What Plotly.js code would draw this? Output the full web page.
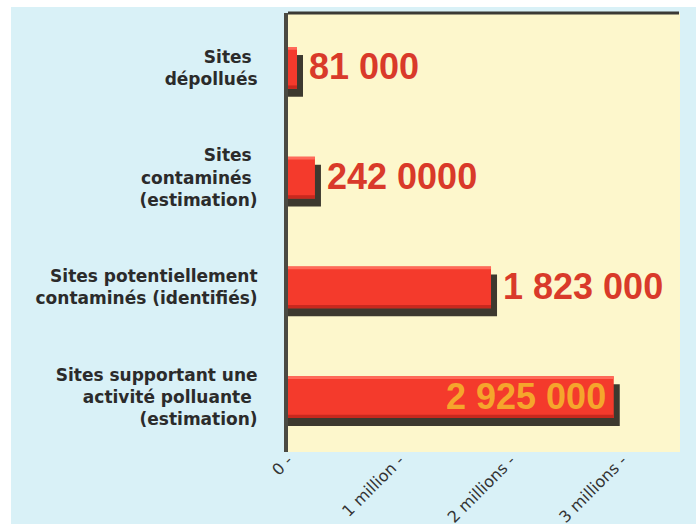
<!DOCTYPE html>
<html>
<head>
<meta charset="utf-8">
<script src="https://cdn.plot.ly/plotly-3.0.1.min.js"></script>
<style>html,body{margin:0;padding:0;background:#d9f1f7;overflow:hidden;}#chart{width:696px;height:524px;}</style>
</head>
<body>
<div id="chart"></div>
<script>
// ---- data ----
var categories = [
  "Sites\u00a0<br>dépollués",
  "Sites\u00a0<br>contaminés\u00a0<br>(estimation)",
  "Sites potentiellement<br>contaminés (identifiés)",
  "Sites supportant une<br>activité polluante\u00a0<br>(estimation)"
];
var values = [81000, 242000, 1823000, 2925000];
var valueLabels = ["81 000", "242 0000", "1 823 000", "2 925 000"];
var labelInside = [false, false, false, true];
var tickValues = [0, 1000000, 2000000, 3000000];
var tickLabels = ["0 -", "1 million -", "2 millions -", "3 millions -"];

// ---- layout constants ----
var W = 696, H = 524;
var mL = 288, mR = 16, mT = 13, mB = 72;
var pw = W - mL - mR, ph = H - mT - mB;
function px2x(p){ return (p - mL) / pw; }
function py2y(p){ return (H - mB - p) / ph; }

var barW = 0.38;
var shadowDx = 54000;   // in data units (~6px)
var shadowDy = 0.073;   // in category units (~8px)

var shadow = {
  type: 'bar', orientation: 'h',
  y: categories,
  x: values.map(function(v){ return v + shadowDx; }),
  width: barW, offset: -barW/2 + shadowDy,
  marker: {color: '#3d392f', line: {width: 0}},
  hoverinfo: 'skip'
};
var bars = {
  type: 'bar', orientation: 'h',
  y: categories, x: values,
  width: barW, offset: -barW/2,
  marker: {color: '#f43a2c', line: {width: 0}},
  hoverinfo: 'skip'
};
// thin lighter highlight on top edge of each bar
var highlight = {
  type: 'bar', orientation: 'h',
  y: categories, x: values,
  width: 0.025, offset: -barW/2,
  marker: {color: '#ff6a5a', line: {width: 0}},
  hoverinfo: 'skip'
};
// darker lower edge of each bar
var lowEdge = {
  type: 'bar', orientation: 'h',
  y: categories, x: values,
  width: 0.03, offset: barW/2 - 0.03,
  marker: {color: '#c8281e', line: {width: 0}},
  hoverinfo: 'skip'
};

var annotations = values.map(function(v, i){
  var inside = labelInside[i];
  return {
    x: v, y: categories[i], xref: 'x', yref: 'y',
    text: valueLabels[i], showarrow: false,
    xanchor: inside ? 'right' : 'left',
    xshift: inside ? -6 : 10,
    yshift: 1,
    font: {family: 'Liberation Sans, Arial, sans-serif', size: 36, weight: 'bold',
           color: inside ? '#f5a62c' : '#d93a2a'}
  };
});

var layout = {
  width: W, height: H,
  margin: {l: mL, r: mR, t: mT, b: mB, pad: 0},
  paper_bgcolor: '#d9f1f7',
  plot_bgcolor: '#fdf7cc',
  showlegend: false,
  hovermode: false,
  barmode: 'overlay',
  xaxis: {
    range: [0, 3520000],
    tickvals: tickValues, ticktext: tickLabels,
    tickangle: -45,
    ticks: '', showgrid: false, zeroline: false, showline: false,
    ticklabelstandoff: -5,
    tickfont: {family: 'DejaVu Sans, sans-serif', size: 16, color: '#333'}
  },
  yaxis: {
    type: 'category', autorange: 'reversed',
    ticks: '', showgrid: false, zeroline: false,
    showline: true, linewidth: 4, linecolor: '#4b4a42',
    ticklabelstandoff: 23,
    tickfont: {family: 'DejaVu Sans, sans-serif', size: 17, weight: 'bold', color: '#2b2b2b'}
  },
  shapes: [
    {type: 'line', xref: 'paper', yref: 'paper', x0: 0, x1: px2x(679), y0: 1, y1: 1,
     line: {color: '#3b3a35', width: 3}},
    {type: 'rect', xref: 'paper', yref: 'paper', x0: px2x(0), x1: px2x(11), y0: py2y(H), y1: py2y(0),
     fillcolor: '#ffffff', line: {width: 0}},
    {type: 'rect', xref: 'paper', yref: 'paper', x0: px2x(0), x1: px2x(W), y0: py2y(7), y1: py2y(0),
     fillcolor: '#ffffff', line: {width: 0}}
  ],
  annotations: annotations
};

Plotly.newPlot('chart', [shadow, bars, highlight, lowEdge], layout, {displayModeBar: false, staticPlot: true});
</script>
</body>
</html>
